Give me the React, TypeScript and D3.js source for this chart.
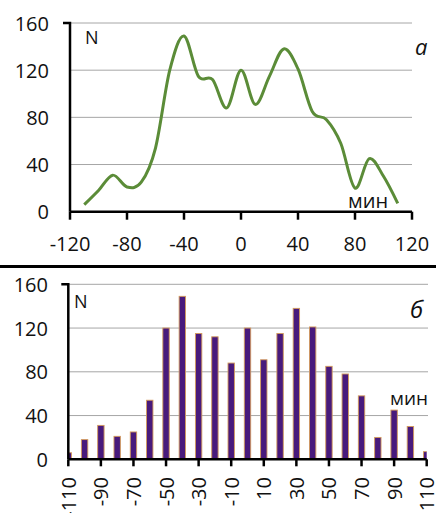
import React from 'react';
import * as d3 from 'd3';

const minutes = [-110, -100, -90, -80, -70, -60, -50, -40, -30, -20, -10, 0, 10, 20, 30, 40, 50, 60, 70, 80, 90, 100, 110];
const counts = [6, 18, 31, 21, 25, 54, 120, 149, 115, 112, 88, 120, 91, 115, 138, 121, 85, 78, 58, 20, 45, 30, 7];
const yTicks = [0, 40, 80, 120, 160];
const topXTicks = [-120, -80, -40, 0, 40, 80, 120];
const bottomXTicks = [-110, -90, -70, -50, -30, -10, 10, 30, 50, 70, 90, 110];

const W = 436;
const H = 513;
const FONT = "'Open Sans', sans-serif";
const FS = 20;

export default function App() {
  // top chart
  const xT = d3.scaleLinear().domain([-120, 120]).range([70, 412]);
  const yT = d3.scaleLinear().domain([0, 160]).range([211.7, 23]);
  const linePath = d3
    .line<number>()
    .x((_, i) => xT(minutes[i]))
    .y((d) => yT(d))
    .curve(d3.curveCatmullRom.alpha(0))(counts) || '';

  // bottom chart
  const xB = d3.scalePoint<number>().domain(minutes).range([68.3, 426.7]).padding(0);
  const yB = d3.scaleLinear().domain([0, 160]).range([459.3, 284.3]);
  const barW = 6.4;

  return (
    <svg
      width={W}
      height={H}
      style={{ position: 'absolute', left: 0, top: 0, background: '#fff' }}
      fontFamily={FONT}
    >
      <defs>
        <clipPath id="clipB">
          <rect x={xB(-110)} y={270} width={xB(110)! - xB(-110)!} height={yB(0) - 270} />
        </clipPath>
      </defs>
      <rect width={W} height={H} fill="#fff" />

      {/* ---------- TOP CHART ---------- */}
      {yTicks.filter((t) => t > 0).map((t) => (
        <line key={'gt' + t} x1={xT(-120)} x2={xT(120)} y1={yT(t)} y2={yT(t)} stroke="#a6a6a6" strokeWidth={1} />
      ))}
      {yTicks.map((t) => (
        <text key={'yt' + t} x={49} y={yT(t)} textAnchor="end" dominantBaseline="central" fontSize={FS} fill="#111">
          {t}
        </text>
      ))}
      <path d={linePath} fill="none" stroke="#5b8c38" strokeWidth={3} strokeLinejoin="round" />
      {/* axes */}
      <path d={`M${xT(-120) - 7},${yT(160)}H${xT(-120)}V${yT(0)}`} fill="none" stroke="#000" strokeWidth={2.5} />
      <line x1={xT(-120)} x2={xT(120)} y1={yT(0)} y2={yT(0)} stroke="#000" strokeWidth={2.5} />
      {topXTicks.map((t) => (
        <g key={'xt' + t}>
          <line x1={xT(t)} x2={xT(t)} y1={yT(0)} y2={yT(0) + 8} stroke="#000" strokeWidth={2.5} />
          <text x={xT(t)} y={251} textAnchor="middle" fontSize={FS} fill="#111">
            {t}
          </text>
        </g>
      ))}
      <text x={85} y={44} fontSize={18} fill="#111">N</text>
      <text x={415} y={55} fontSize={22} fontStyle="italic" fill="#111">а</text>
      <text x={348} y={208} fontSize={20} fill="#111">мин</text>

      {/* separator */}
      <line x1={0} x2={W} y1={266.5} y2={266.5} stroke="#000" strokeWidth={3} />

      {/* ---------- BOTTOM CHART ---------- */}
      {yTicks.filter((t) => t > 0).map((t) => (
        <line key={'gb' + t} x1={xB(-110)} x2={428} y1={yB(t)} y2={yB(t)} stroke="#a6a6a6" strokeWidth={1} />
      ))}
      {yTicks.map((t) => (
        <text key={'yb' + t} x={48} y={yB(t)} textAnchor="end" dominantBaseline="central" fontSize={FS} fill="#111">
          {t}
        </text>
      ))}
      <g clipPath="url(#clipB)">
        {counts.map((c, i) => (
          <rect
            key={'b' + i}
            x={xB(minutes[i])! - barW / 2}
            y={yB(c)}
            width={barW}
            height={yB(0) - yB(c)}
            fill="#481a7c"
            stroke="#d39a5c"
            strokeWidth={0.9}
          />
        ))}
      </g>
      <path d={`M${xB(-110)! - 7},${yB(160)}H${xB(-110)}V${yB(0)}`} fill="none" stroke="#000" strokeWidth={2.5} />
      <line x1={xB(-110)} x2={xB(110)} y1={yB(0)} y2={yB(0)} stroke="#000" strokeWidth={2.5} />
      {bottomXTicks.map((t) => (
        <g key={'xb' + t}>
          <line x1={xB(t)} x2={xB(t)} y1={yB(0)} y2={yB(0) + 7} stroke="#000" strokeWidth={2.5} />
          <text
            transform={`translate(${xB(t)},477) rotate(-90)`}
            textAnchor="end"
            dominantBaseline="central"
            fontSize={FS}
            fill="#111"
          >
            {t}
          </text>
        </g>
      ))}
      <text x={74} y={308} fontSize={18} fill="#111">N</text>
      <text x={410} y={318} fontSize={24} fontStyle="italic" fill="#111">б</text>
      <text x={390} y={405} fontSize={19} fill="#111">мин</text>
    </svg>
  );
}
